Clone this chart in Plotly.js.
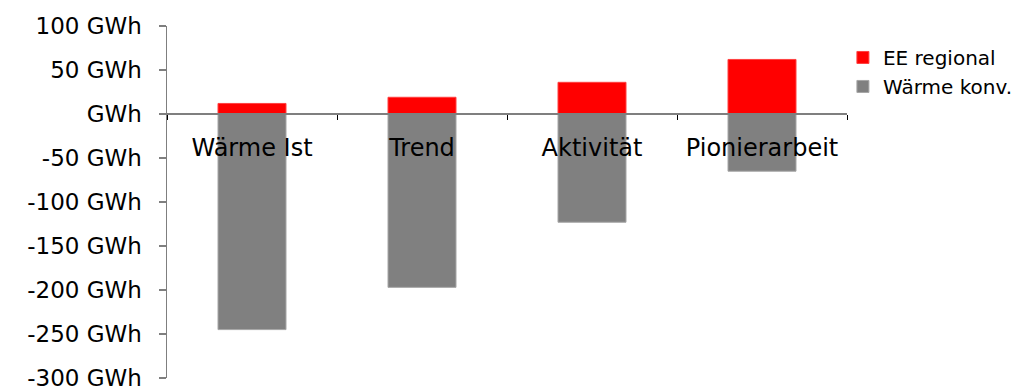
<!DOCTYPE html>
<html>
<head>
<meta charset="utf-8">
<script src="https://cdn.plot.ly/plotly-3.0.1.min.js"></script>
<style>
  html, body { margin: 0; padding: 0; background: #fff; }
  #chart { width: 1035px; height: 390px; }
</style>
</head>
<body>
<div id="chart"></div>
<script>
// Scenarios and their energy balance (GWh)
const scenarios = ['Wärme Ist', 'Trend', 'Aktivität', 'Pionierarbeit'];
const eeRegional = [12, 19, 36, 62];
const waermeKonv = [-245, -197, -123, -65];

// Y axis ticks
const yTickVals = [-300, -250, -200, -150, -100, -50, 0, 50, 100];
const yTickText = ['-300 GWh', '-250 GWh', '-200 GWh', '-150 GWh', '-100 GWh', '-50 GWh', 'GWh', '50 GWh', '100 GWh'];

const FONT = 'DejaVu Sans, sans-serif';
const yMin = -300, yMax = 100;

const traces = [
  {
    type: 'bar', name: 'EE regional', x: scenarios, y: eeRegional,
    marker: { color: '#FF0000', line: { color: '#FF4040', width: 1 } },
    width: 0.4, hoverinfo: 'x+y'
  },
  {
    type: 'bar', name: 'Wärme konv.', x: scenarios, y: waermeKonv,
    marker: { color: '#808080', line: { color: '#A6A6A6', width: 1 } },
    width: 0.4, hoverinfo: 'x+y'
  }
];

const layout = {
  width: 1035, height: 390,
  margin: { l: 167, r: 188, t: 26, b: 12, pad: 0 },
  paper_bgcolor: '#fff', plot_bgcolor: '#fff',
  barmode: 'relative',
  font: { family: FONT, color: '#000' },
  showlegend: true,
  legend: {
    x: 0.994, xanchor: 'left', y: 0.966, yanchor: 'top',
    font: { family: FONT, size: 20, color: '#000' },
    traceorder: 'normal', itemclick: false, tracegroupgap: 0
  },
  xaxis: {
    type: 'category',
    anchor: 'free',
    position: (0 - yMin) / (yMax - yMin),
    showline: true, linecolor: '#7f7f7f', linewidth: 2,
    ticks: 'outside', tickson: 'boundaries', ticklen: 5, tickcolor: '#000', tickwidth: 1,
    ticklabelstandoff: 12,
    tickfont: { family: FONT, size: 24, color: '#000' },
    showgrid: false, zeroline: false, fixedrange: true
  },
  yaxis: {
    range: [yMin, yMax],
    tickvals: yTickVals, ticktext: yTickText,
    ticklabeloverflow: 'allow',
    showline: true, linecolor: '#7f7f7f', linewidth: 1.5,
    ticks: 'outside', ticklen: 7, tickcolor: '#7f7f7f', tickwidth: 1.5,
    ticklabelstandoff: 12,
    tickfont: { family: FONT, size: 23, color: '#000' },
    showgrid: false, zeroline: false, fixedrange: true
  }
};

Plotly.newPlot('chart', traces, layout, { displayModeBar: false, staticPlot: true });
</script>
</body>
</html>
